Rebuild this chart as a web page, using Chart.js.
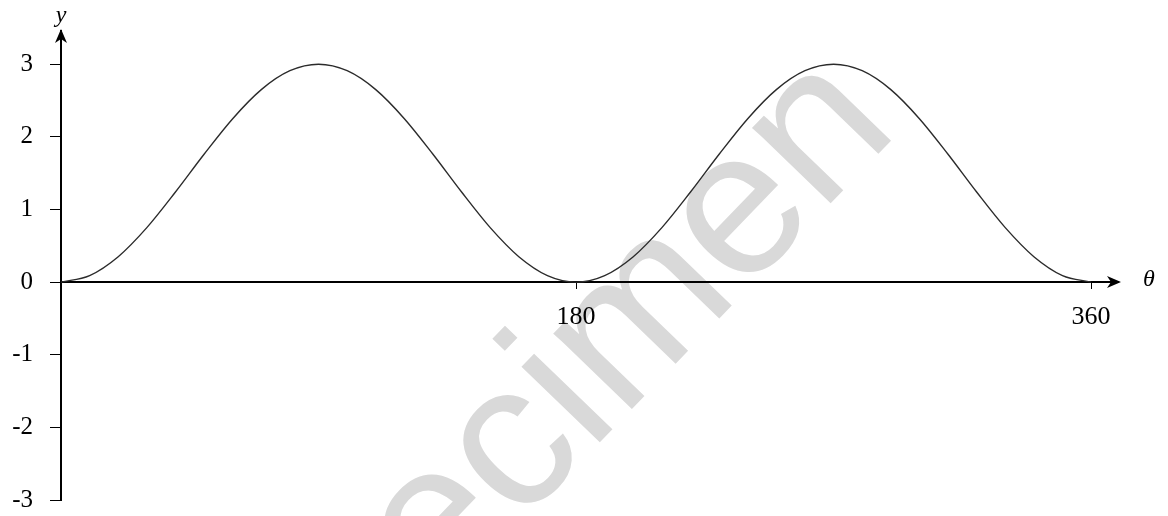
<!DOCTYPE html>
<html>
<head>
<meta charset="utf-8">
<script src="https://cdn.jsdelivr.net/npm/chart.js@4/dist/chart.umd.min.js"></script>
<style>
  html, body { margin: 0; padding: 0; background: #fff; }
  #wrap { width: 1168px; height: 516px; }
</style>
</head>
<body>
<div id="wrap"><canvas id="chart"></canvas></div>
<script>
// values, every 10 degrees
const thetaValues = [0, 10, 20, 30, 40, 50, 60, 70, 80, 90, 100, 110, 120, 130, 140, 150, 160, 170, 180,
  190, 200, 210, 220, 230, 240, 250, 260, 270, 280, 290, 300, 310, 320, 330, 340, 350, 360];
const yValues = [0, 0.09, 0.35, 0.75, 1.24, 1.76, 2.25, 2.65, 2.91, 3, 2.91, 2.65, 2.25, 1.76, 1.24, 0.75, 0.35, 0.09, 0,
  0.09, 0.35, 0.75, 1.24, 1.76, 2.25, 2.65, 2.91, 3, 2.91, 2.65, 2.25, 1.76, 1.24, 0.75, 0.35, 0.09, 0];
const xTickValues = [180, 360];
const yTickValues = [-3, -2, -1, 0, 1, 2, 3];

const points = thetaValues.map((t, i) => ({ x: t, y: yValues[i] }));

// watermark, arrowheads and axis letters
const extras = {
  id: "extras",
  beforeDraw(chart) {
    const ctx = chart.ctx;
    ctx.save();
    ctx.translate(264, 790);
    ctx.rotate(-46 * Math.PI / 180);
    ctx.fillStyle = "#d9d9d9";
    ctx.font = "206px 'Liberation Sans', Arial, sans-serif";
    ctx.textAlign = "left";
    ctx.textBaseline = "alphabetic";
    ctx.fillText("Specimen", 0, 0);
    ctx.restore();
  },
  afterDraw(chart) {
    const ctx = chart.ctx;
    const xs = chart.scales.x, ys = chart.scales.y;
    const x0 = xs.getPixelForValue(0);
    const y0 = ys.getPixelForValue(0);
    const top = chart.chartArea.top;
    const right = chart.chartArea.right;
    ctx.save();
    ctx.fillStyle = "#000";
    // x arrow
    ctx.beginPath();
    ctx.moveTo(right + 3, y0);
    ctx.lineTo(right - 11, y0 - 6);
    ctx.lineTo(right - 7, y0);
    ctx.lineTo(right - 11, y0 + 6);
    ctx.closePath();
    ctx.fill();
    // y arrow
    ctx.beginPath();
    ctx.moveTo(x0, top - 2);
    ctx.lineTo(x0 - 6, top + 12);
    ctx.lineTo(x0, top + 8);
    ctx.lineTo(x0 + 6, top + 12);
    ctx.closePath();
    ctx.fill();
    ctx.font = "italic 24px 'Liberation Serif', 'Times New Roman', serif";
    ctx.textAlign = "center";
    ctx.textBaseline = "middle";
    ctx.fillText("y", x0, 16);
    ctx.fillText("\u03b8", 1149, y0 - 2);
    ctx.restore();
  }
};

new Chart(document.getElementById("chart"), {
  type: "line",
  data: {
    datasets: [{
      data: points,
      borderColor: "#2b2b2b",
      borderWidth: 1.4,
      pointRadius: 0,
      fill: false,
      cubicInterpolationMode: "monotone"
    }]
  },
  options: {
    responsive: true,
    maintainAspectRatio: false,
    animation: false,
    layout: { padding: { top: 31, bottom: 16, left: 0, right: 50 } },
    plugins: { legend: { display: false }, tooltip: { enabled: false } },
    scales: {
      x: {
        type: "linear",
        position: { y: 0 },
        min: 0,
        max: 369.4,
        afterBuildTicks: (s) => { s.ticks = xTickValues.map(v => ({ value: v })); },
        afterFit: (s) => { s.height = 0; s.paddingLeft = 0; s.paddingRight = 0; },
        ticks: {
          color: "#000",
          padding: 13,
          maxRotation: 0,
          font: { family: "'Liberation Serif', 'Times New Roman', serif", size: 26 }
        },
        grid: { drawOnChartArea: false, drawTicks: true, tickLength: 6, color: "#000", lineWidth: 1 },
        border: { display: true, color: "#000", width: 2 }
      },
      y: {
        type: "linear",
        position: "left",
        min: -3,
        max: 3.457,
        afterBuildTicks: (s) => { s.ticks = yTickValues.map(v => ({ value: v })); },
        afterFit: (s) => { s.width = 61; s.paddingTop = 0; s.paddingBottom = 0; },
        ticks: {
          color: "#000",
          padding: 17,
          font: { family: "'Liberation Serif', 'Times New Roman', serif", size: 25 }
        },
        grid: { drawOnChartArea: false, drawTicks: true, tickLength: 11, color: "#000", lineWidth: 1 },
        border: { display: true, color: "#000", width: 2 }
      }
    }
  },
  plugins: [extras]
});
</script>
</body>
</html>
